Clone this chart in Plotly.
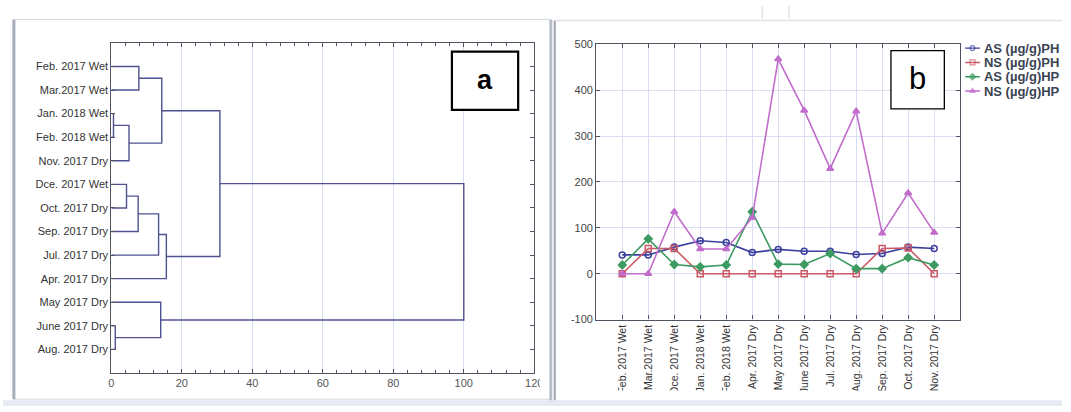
import plotly.graph_objects as go

W, H = 1071, 412

# ---------------- panel a : dendrogram ----------------
leaf_labels = ["Feb. 2017 Wet", "Mar.2017 Wet", "Jan. 2018 Wet", "Feb. 2018 Wet",
               "Nov. 2017 Dry", "Dce. 2017 Wet", "Oct. 2017 Dry", "Sep. 2017 Dry",
               "Jul. 2017 Dry", "Apr. 2017 Dry", "May 2017 Dry", "June 2017 Dry",
               "Aug. 2017 Dry"]
# linkage: new cluster ids start at len(leaf_labels)
merge_left = [2, 11, 5, 13, 15, 0, 17, 10, 18, 19, 21, 23]
merge_right = [3, 12, 6, 4, 7, 1, 8, 14, 16, 9, 22, 20]
merge_height = [0.6, 1.1, 4.3, 5.0, 7.6, 7.8, 13.4, 14.0, 14.3, 15.6, 30.8, 100]
dist_ticks = [0, 20, 40, 60, 80, 100, 120]

# ---------------- panel b : concentrations ----------------
months = ["Feb. 2017 Wet", "Mar.2017 Wet", "Dce. 2017 Wet", "Jan. 2018 Wet",
          "Feb. 2018 Wet", "Apr. 2017 Dry", "May 2017 Dry", "June 2017 Dry",
          "Jul. 2017 Dry", "Aug. 2017 Dry", "Sep. 2017 Dry", "Oct. 2017 Dry",
          "Nov. 2017 Dry"]
as_ph = [41, 41, 58, 72, 68, 46, 53, 49, 49, 42, 44, 58, 55]
ns_ph = [0, 55, 55, 0, 0, 0, 0, 0, 0, 0, 55, 56, 0]
as_hp = [19, 76, 20, 15, 19, 135, 21, 20, 44, 11, 11, 35, 19]
ns_hp = [0, 0, 135, 54, 54, 122, 468, 356, 229, 354, 88, 176, 90]
series_names = ["AS (µg/g)PH", "NS (µg/g)PH", "AS (µg/g)HP", "NS (µg/g)HP"]
conc_ticks = [-100, 0, 100, 200, 300, 400, 500]
conc_tick_labels = ["-100", "0", "100", "200", "300", "400", "500"]

# ---------------- styles ----------------
FONT = "Liberation Sans, Arial, sans-serif"
TREE_COLOR = "#4f5190"
GRID = "#d9def3"
FRAME = "#50535f"
series_colors = ["#3c3f9e", "#cc5a66", "#3d9a61", "#c26ccc"]
series_symbols = ["circle-open", "square-open", "diamond", "triangle-up"]
series_values = [as_ph, ns_ph, as_hp, ns_hp]


def px(x):
    return x / W


def py(y):
    return 1 - y / H


fig = go.Figure()

# dendrogram segments computed from the linkage
n = len(leaf_labels)
pos_x = {i: 0.0 for i in range(n)}
pos_y = {i: float(i + 1) for i in range(n)}
xs, ys = [], []
for k, (a, b, h) in enumerate(zip(merge_left, merge_right, merge_height)):
    xs += [pos_x[a], h, h, pos_x[b], None]
    ys += [pos_y[a], pos_y[a], pos_y[b], pos_y[b], None]
    pos_x[n + k] = h
    pos_y[n + k] = (pos_y[a] + pos_y[b]) / 2

fig.add_trace(go.Scatter(x=xs, y=ys, mode="lines", xaxis="x", yaxis="y",
                         line=dict(color=TREE_COLOR, width=1.4),
                         showlegend=False, hoverinfo="skip"))

# line chart
for name, vals, col, sym in zip(series_names, series_values, series_colors, series_symbols):
    fig.add_trace(go.Scatter(x=months, y=vals, name=name, mode="lines+markers",
                             xaxis="x2", yaxis="y2",
                             line=dict(color=col, width=1.6),
                             marker=dict(symbol=sym, size=6, color=col,
                                         line=dict(color=col, width=1.5)),
                             showlegend=False))

# custom compact legend glyphs
for i, (name, col, sym) in enumerate(zip(series_names, series_colors, series_symbols)):
    fig.add_trace(go.Scatter(x=[0, 0.5, 1], y=[i, i, i], mode="lines+markers",
                             xaxis="x3", yaxis="y3",
                             line=dict(color=col, width=1.4),
                             marker=dict(symbol=sym, size=[0, 5, 0], color=col,
                                         line=dict(color=col, width=1.2)),
                             showlegend=False, hoverinfo="skip"))

axis_common = dict(showline=True, linecolor=FRAME, linewidth=1.2, mirror="ticks",
                   ticks="inside", ticklen=4, tickcolor=FRAME, zeroline=False)

shapes = [
    # window frames
    dict(type="rect", xref="paper", yref="paper", x0=px(11), x1=px(554), y0=py(405), y1=py(14),
         line=dict(color="#d3d8e2", width=1), layer="below"),
    dict(type="line", xref="paper", yref="paper", x0=px(11), x1=px(11), y0=py(405), y1=py(14),
         line=dict(color="#a7adba", width=3)),
    dict(type="rect", xref="paper", yref="paper", x0=px(543), x1=px(552), y0=py(404), y1=py(380),
         fillcolor="white", line=dict(width=0), layer="above"),
    dict(type="line", xref="paper", yref="paper", x0=px(554), x1=px(554), y0=py(407), y1=py(14),
         line=dict(color="#b9bfca", width=3)),
    dict(type="line", xref="paper", yref="paper", x0=px(558), x1=px(558), y0=py(407), y1=py(15),
         line=dict(color="#9ca2ad", width=2)),
    dict(type="line", xref="paper", yref="paper", x0=px(558), x1=px(1071), y0=py(15), y1=py(15),
         line=dict(color="#dde2ea", width=1.5)),
    dict(type="rect", xref="paper", yref="paper", x0=px(560), x1=px(1071), y0=py(406), y1=py(396),
         fillcolor="white", line=dict(width=0), layer="above"),
    dict(type="rect", xref="paper", yref="paper", x0=0, x1=1, y0=0, y1=py(406),
         fillcolor="#e6ebf3", line=dict(width=0), layer="above"),
    dict(type="line", xref="paper", yref="paper", x0=px(768), x1=px(768), y0=py(13), y1=1,
         line=dict(color="#e2e2e2", width=1.5)),
    dict(type="line", xref="paper", yref="paper", x0=px(795), x1=px(795), y0=py(13), y1=1,
         line=dict(color="#e2e2e2", width=1.5)),
    # label boxes
    dict(type="rect", xref="paper", yref="paper", x0=px(454), x1=px(521), y0=py(107), y1=py(47),
         line=dict(color="black", width=2.2), fillcolor="white", layer="above"),
    dict(type="rect", xref="paper", yref="paper", x0=px(898), x1=px(952), y0=py(106), y1=py(46),
         line=dict(color="black", width=1.3), fillcolor="white", layer="above"),
]
annotations = [
    dict(text="<b>a</b>", x=px(487.5), y=py(76), xref="paper", yref="paper", showarrow=False,
         xanchor="center", yanchor="middle",
         font=dict(family=FONT, size=27, color="black")),
    dict(text="b", x=px(925), y=py(75), xref="paper", yref="paper", showarrow=False,
         xanchor="center", yanchor="middle",
         font=dict(family=FONT, size=31, color="black")),
]

fig.update_layout(
    width=W, height=H,
    margin=dict(l=0, r=0, t=0, b=0),
    paper_bgcolor="white", plot_bgcolor="white",
    font=dict(family=FONT, color="#3a3a3a"),
    showlegend=False,
    xaxis=dict(domain=[px(109.6), px(537.3)], range=[0, 120], tickvals=dist_ticks,
               showgrid=True, gridcolor=GRID, gridwidth=1,
               tickfont=dict(size=11, color="#555"),
               minor=dict(dtick=4, ticks="inside", ticklen=3, tickcolor=FRAME, showgrid=False),
               anchor="y", **axis_common),
    yaxis=dict(domain=[py(378), py(38)], range=[len(leaf_labels) + 1, 0],
               tickvals=list(range(1, len(leaf_labels) + 1)), ticktext=leaf_labels,
               showgrid=False, tickfont=dict(size=11, color="#333"),
               anchor="x", **axis_common),
    xaxis2=dict(domain=[px(600), px(968)], type="category", range=[-1, len(months)],
                tickangle=-90, showgrid=True, gridcolor=GRID,
                tickfont=dict(size=10.5, color="#333"), anchor="y2", **axis_common),
    yaxis2=dict(domain=[py(323), py(39.5)], range=[-100, 500],
                tickvals=conc_ticks, ticktext=conc_tick_labels,
                showgrid=True, gridcolor=GRID,
                tickfont=dict(size=11, color="#444"), anchor="x2", **axis_common),
    xaxis3=dict(domain=[px(973), px(988)], range=[0, 1], visible=False, anchor="y3"),
    yaxis3=dict(domain=[py(95), py(36)], range=[3.5, -0.5], side="right", anchor="x3",
                tickvals=list(range(len(series_names))), ticktext=series_names,
                showgrid=False, showline=False, zeroline=False, ticks="",
                ticklabelstandoff=3,
                tickfont=dict(size=13, color="#3b4452", weight="bold")),
    shapes=shapes,
    annotations=annotations,
)

fig.write_html("out.html", config={"displayModeBar": False},
               post_script="document.body.style.margin='0px';")
